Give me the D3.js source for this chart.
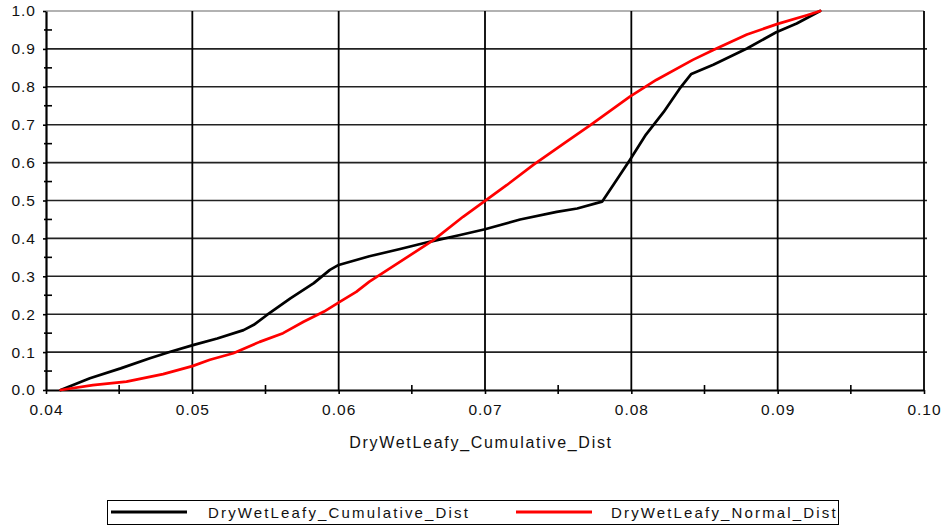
<!DOCTYPE html>
<html>
<head>
<meta charset="utf-8">
<script src="https://cdn.jsdelivr.net/npm/d3@7"></script>
<style>
  html, body { margin: 0; padding: 0; background: #fff; }
  svg { display: block; }
  text { font-family: "Liberation Sans", Arial, sans-serif; fill: #111; }
</style>
</head>
<body>
<svg id="chart" width="947" height="529"></svg>
<script>
// Empirical cumulative distribution (x value, cumulative fraction)
const cumulativeX = [0.0410, 0.0430, 0.0451, 0.0471, 0.0485, 0.0501, 0.0517, 0.0535, 0.0542, 0.0551, 0.0567, 0.0583,
  0.0594, 0.0600, 0.0621, 0.0642, 0.0662, 0.0683, 0.0700, 0.0724, 0.0749, 0.0763, 0.0780, 0.0788, 0.0799, 0.0810,
  0.0822, 0.0833, 0.0841, 0.0856, 0.0879, 0.0899, 0.0913, 0.0929];
const cumulativeY = [0.000, 0.031, 0.057, 0.084, 0.101, 0.119, 0.136, 0.158, 0.172, 0.198, 0.242, 0.282,
  0.317, 0.330, 0.353, 0.372, 0.391, 0.409, 0.424, 0.450, 0.470, 0.479, 0.497, 0.543, 0.607, 0.674,
  0.733, 0.795, 0.834, 0.858, 0.901, 0.944, 0.967, 1.000];

// Fitted normal distribution (x value, cumulative probability)
const normalX = [0.0410, 0.0432, 0.0455, 0.0480, 0.0500, 0.0512, 0.0528, 0.0546, 0.0562, 0.0576, 0.0590, 0.0601,
  0.0612, 0.0621, 0.0665, 0.0685, 0.0700, 0.0715, 0.0733, 0.0754, 0.0772, 0.0799, 0.0817, 0.0842, 0.0856, 0.0879,
  0.0900, 0.0920, 0.0929];
const normalY = [0.000, 0.013, 0.022, 0.042, 0.063, 0.080, 0.097, 0.127, 0.150, 0.180, 0.207, 0.233,
  0.259, 0.286, 0.396, 0.457, 0.499, 0.541, 0.594, 0.651, 0.699, 0.774, 0.818, 0.871, 0.897, 0.938,
  0.966, 0.989, 1.000];

const xTicks = [0.04, 0.05, 0.06, 0.07, 0.08, 0.09, 0.10];
const xMinorTicks = [0.045, 0.055, 0.065, 0.075, 0.085, 0.095];
const yTicks = [0.0, 0.1, 0.2, 0.3, 0.4, 0.5, 0.6, 0.7, 0.8, 0.9, 1.0];
const yMinorTicks = [0.05, 0.15, 0.25, 0.35, 0.45, 0.55, 0.65, 0.75, 0.85, 0.95];

const seriesNames = ["DryWetLeafy_Cumulative_Dist", "DryWetLeafy_Normal_Dist"];
const seriesColors = ["#000000", "#ff0000"];
const xTitle = "DryWetLeafy_Cumulative_Dist";

const svg = d3.select("#chart");
const plot = { left: 46, right: 924, top: 11, bottom: 390 };

const x = d3.scaleLinear().domain([0.04, 0.10]).range([plot.left, plot.right]);
const y = d3.scaleLinear().domain([0, 1]).range([plot.bottom, plot.top]);

// Gridlines
const grid = svg.append("g");
grid.selectAll("line.h").data(yTicks.filter(v => v > 0)).join("line")
  .attr("x1", plot.left).attr("x2", d => d === 1 ? plot.right : plot.right + 3)
  .attr("y1", d => y(d)).attr("y2", d => y(d))
  .attr("stroke", d => d === 1 ? "#999" : "#222")
  .attr("stroke-width", d => d === 1 ? 1.5 : 1.6);
grid.selectAll("line.v").data(xTicks.filter(v => v > 0.04)).join("line")
  .attr("y1", plot.top).attr("y2", plot.bottom)
  .attr("x1", d => x(d)).attr("x2", d => x(d))
  .attr("stroke", "#000").attr("stroke-width", 1.8);

// Axes
const fmtX = d3.format(".2f"), fmtY = d3.format(".1f");

const xAxis = svg.append("g").attr("transform", `translate(0,${plot.bottom})`)
  .call(d3.axisBottom(x).tickValues(xTicks).tickFormat(fmtX).tickSize(4).tickSizeOuter(0));
xAxis.select(".domain").attr("stroke", "#000").attr("stroke-width", 2);
xAxis.selectAll(".tick line").attr("stroke", "#000").attr("stroke-width", 1.6);
xAxis.selectAll(".tick text")
  .attr("y", 14).attr("dy", "0.71em")
  .style("font-size", "15.5px").style("letter-spacing", "1px")
  .style("font-family", "'Liberation Sans', Arial, sans-serif").attr("fill", "#111");

const xMinor = svg.append("g");
xMinor.selectAll("line").data(xMinorTicks).join("line")
  .attr("x1", d => x(d)).attr("x2", d => x(d))
  .attr("y1", plot.bottom - 5).attr("y2", plot.bottom + 4)
  .attr("stroke", "#000").attr("stroke-width", 1.6);

const yAxis = svg.append("g").attr("transform", `translate(${plot.left},0)`)
  .call(d3.axisLeft(y).tickValues(yTicks).tickFormat(fmtY).tickSize(3).tickSizeOuter(0));
yAxis.select(".domain").attr("stroke", "#000").attr("stroke-width", 2.2);
yAxis.selectAll(".tick line").attr("stroke", "#000").attr("stroke-width", 1.6);
yAxis.selectAll(".tick text")
  .attr("x", -10)
  .style("font-size", "15.5px").style("letter-spacing", "1px")
  .style("font-family", "'Liberation Sans', Arial, sans-serif").attr("fill", "#111");

const yMinor = svg.append("g");
yMinor.selectAll("line").data(yMinorTicks).join("line")
  .attr("x1", plot.left - 2).attr("x2", plot.left + 6)
  .attr("y1", d => y(d)).attr("y2", d => y(d))
  .attr("stroke", "#000").attr("stroke-width", 1.6);

// Series lines
const series = [
  { xs: cumulativeX, ys: cumulativeY, color: seriesColors[0] },
  { xs: normalX, ys: normalY, color: seriesColors[1] }
];
const line = d3.line().x(d => x(d[0])).y(d => y(d[1]));
svg.append("g").selectAll("path").data(series).join("path")
  .attr("d", s => line(s.xs.map((v, i) => [v, s.ys[i]])))
  .attr("fill", "none")
  .attr("stroke", s => s.color)
  .attr("stroke-width", 2.7)
  .attr("stroke-linejoin", "round")
  .attr("stroke-linecap", "round");

// Axis title
svg.append("text")
  .attr("x", 481).attr("y", 448)
  .attr("text-anchor", "middle")
  .style("font-size", "16px").style("letter-spacing", "1.7px")
  .text(xTitle);

// Legend
const legend = svg.append("g");
legend.append("rect")
  .attr("x", 107.5).attr("y", 500.5).attr("width", 731).attr("height", 24)
  .attr("fill", "#fff").attr("stroke", "#000").attr("stroke-width", 1);
const legendItems = [
  { name: seriesNames[0], color: seriesColors[0], x0: 111, tx: 208 },
  { name: seriesNames[1], color: seriesColors[1], x0: 516, tx: 611 }
];
legend.selectAll("line").data(legendItems).join("line")
  .attr("x1", d => d.x0).attr("x2", d => d.x0 + 76)
  .attr("y1", 512).attr("y2", 512)
  .attr("stroke", d => d.color).attr("stroke-width", 3);
legend.selectAll("text").data(legendItems).join("text")
  .attr("x", d => d.tx).attr("y", 518)
  .style("font-size", "15px").style("letter-spacing", "2.15px")
  .text(d => d.name);
</script>
</body>
</html>
